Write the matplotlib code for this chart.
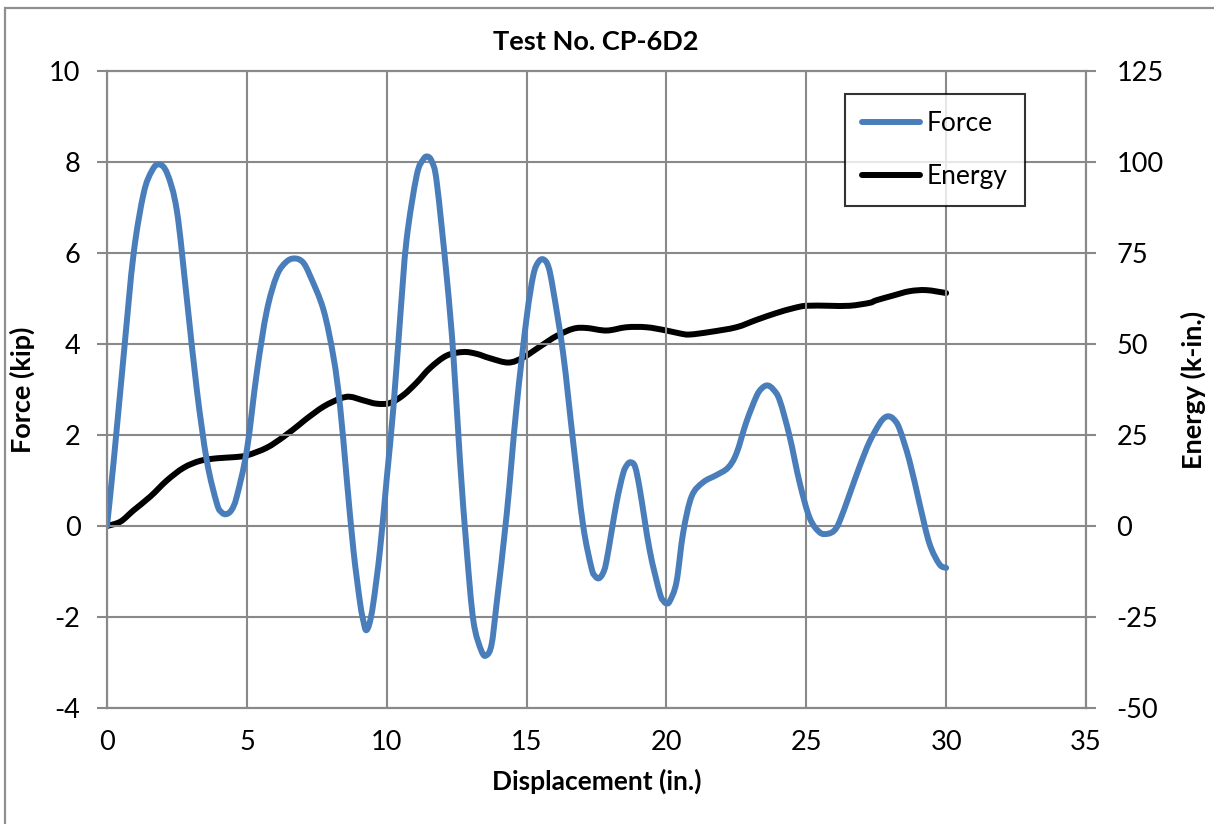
import matplotlib.pyplot as plt
from matplotlib.patches import Rectangle, PathPatch
from matplotlib.path import Path
from matplotlib.lines import Line2D

plt.rcParams['font.family'] = ['Lato', 'DejaVu Sans']
plt.rcParams['axes.unicode_minus'] = False

# Force vs displacement (in., kip)
force_disp = [0.0, 0.24, 0.6, 0.95, 1.31, 1.6, 1.85, 2.15, 2.5, 2.86, 3.21, 3.57, 3.93, 4.1, 4.26,
              4.45, 4.64, 5.0, 5.36, 5.71, 6.07, 6.4, 6.7, 7.0, 7.26, 7.74, 8.1, 8.33, 8.57, 8.81,
              9.05, 9.17, 9.26, 9.38, 9.52, 9.76, 10.0, 10.24, 10.48, 10.71, 11.07, 11.3, 11.46,
              11.62, 11.79, 12.14, 12.38, 12.62, 12.86, 13.1, 13.39, 13.57, 13.75, 13.93, 14.29,
              14.64, 15.0, 15.24, 15.42, 15.6, 15.78, 15.95, 16.31, 16.67, 17.02, 17.32, 17.45,
              17.58, 17.72, 17.86, 18.21, 18.45, 18.6, 18.73, 18.88, 19.05, 19.4, 19.76, 19.9,
              20.0, 20.12, 20.36, 20.6, 20.9, 21.31, 21.79, 22.2, 22.5, 22.86, 23.21, 23.4, 23.61,
              23.82, 24.05, 24.4, 24.76, 25.12, 25.48, 25.77, 26.0, 26.19, 26.55, 26.9, 27.26,
              27.62, 27.8, 27.95, 28.12, 28.33, 28.69, 29.05, 29.4, 29.76, 30.0]
force = [0.0, 1.43, 3.78, 5.98, 7.31, 7.8, 7.95, 7.75, 6.92, 4.96, 3.0, 1.43, 0.49, 0.3, 0.26,
         0.35, 0.65, 1.67, 3.39, 4.72, 5.5, 5.8, 5.88, 5.8, 5.5, 4.75, 3.7, 2.65, 1.04, -0.53,
         -1.7, -2.1, -2.29, -2.15, -1.7, -0.53, 1.04, 2.61, 4.57, 6.29, 7.7, 8.05, 8.12,
         8.0, 7.55, 5.51, 3.78, 1.43, -0.53, -2.09, -2.75, -2.84, -2.6, -1.7, 0.26,
         2.61, 4.57, 5.51, 5.8, 5.86, 5.7, 5.19, 3.78, 1.82, 0.02, -0.92, -1.1,
         -1.15, -1.05, -0.76, 0.49, 1.15, 1.35, 1.4, 1.3, 0.8, -0.53, -1.47, -1.65,
         -1.7, -1.65, -1.23, -0.14, 0.65, 0.96, 1.12, 1.28, 1.59, 2.29, 2.84, 3.02, 3.09,
         3.0, 2.76, 1.98, 0.96, 0.18, -0.14, -0.17, -0.1, 0.1, 0.7, 1.3, 1.85,
         2.25, 2.38, 2.41, 2.35, 2.14, 1.43, 0.49, -0.38, -0.84, -0.92]

# Cumulative energy (k-in.)
energy_disp = [0.0, 0.48, 0.95, 1.55, 2.14, 2.74, 3.33, 3.93, 4.52, 5.0, 5.71, 6.31, 6.9, 7.14,
               7.74, 8.33, 8.69, 9.17, 9.64, 10.12, 10.6, 11.07, 11.55, 12.14, 12.74, 13.21,
               13.69, 14.35, 14.88, 15.48, 16.07, 16.67, 17.14, 17.86, 18.57, 19.29, 20.0, 20.48,
               20.83, 21.55, 22.5, 23.21, 23.93, 24.52, 25.0, 25.83, 26.55, 27.26, 27.5, 28.1,
               28.69, 29.29, 30.0]
energy = [0.0, 1.2, 4.3, 8.1, 12.5, 16.0, 17.9, 18.6, 18.9, 19.4, 21.5, 24.5, 28.0, 29.5,
          32.8, 35.0, 35.5, 34.5, 33.6, 33.8, 36.0, 39.4, 43.4, 46.8, 47.8, 47.3,
          46.1, 44.9, 46.3, 49.3, 52.2, 54.2, 54.4, 53.7, 54.6, 54.6, 53.7, 52.9,
          52.6, 53.3, 54.6, 56.6, 58.5, 59.8, 60.5, 60.5, 60.5, 61.3, 62.0, 63.3,
          64.5, 64.8, 64.0]

x_ticks = [0, 5, 10, 15, 20, 25, 30, 35]
force_ticks = [-4, -2, 0, 2, 4, 6, 8, 10]
energy_ticks = [-50, -25, 0, 25, 50, 75, 100, 125]

grid_gray = '#898989'
blue = '#4A7EBB'


def smooth_path(xs, ys):
    # cubic Bezier through every point (Catmull-Rom tangents), like a smoothed line
    verts = [(xs[0], ys[0])]
    codes = [Path.MOVETO]
    n = len(xs)
    for i in range(n - 1):
        x0, y0 = (xs[i - 1], ys[i - 1]) if i > 0 else (xs[i], ys[i])
        x1, y1 = xs[i], ys[i]
        x2, y2 = xs[i + 1], ys[i + 1]
        x3, y3 = (xs[i + 2], ys[i + 2]) if i + 2 < n else (x2, y2)
        verts += [(x1 + (x2 - x0) / 6, y1 + (y2 - y0) / 6),
                  (x2 - (x3 - x1) / 6, y2 - (y3 - y1) / 6),
                  (x2, y2)]
        codes += [Path.CURVE4] * 3
    return Path(verts, codes)


fig = plt.figure(figsize=(12.14, 8.24), dpi=100)
ax = fig.add_axes([107 / 1214, 1 - 708 / 824, (1086 - 107) / 1214, (708 - 71) / 824])
ax2 = ax.twinx()

# frame around the whole chart
fig.patches.append(Rectangle((5 / 1214, -0.1), 1.2, 1 - 8 / 824 + 0.1, transform=fig.transFigure,
                             fill=False, edgecolor='#8f8f8f', linewidth=1.6))

ax.add_patch(PathPatch(smooth_path(force_disp, force), fill=False, edgecolor=blue,
                       linewidth=4.3, capstyle='round', joinstyle='round'))
ax2.add_patch(PathPatch(smooth_path(energy_disp, energy), fill=False, edgecolor='black',
                        linewidth=4.3, capstyle='round', joinstyle='round'))
ax.set_zorder(ax2.get_zorder() + 1)
ax.patch.set_visible(False)

ax.set_xlim(0, 35)
ax.set_ylim(-4, 10)
ax2.set_ylim(-50, 125)
ax.set_xticks(x_ticks)
ax.set_yticks(force_ticks)
ax2.set_yticks(energy_ticks)
ax.grid(True, color=grid_gray, linewidth=1.5)
ax.set_axisbelow(True)

for a in (ax, ax2):
    for s in a.spines.values():
        s.set_color(grid_gray)
        s.set_linewidth(1.5)

ax.tick_params(axis='y', length=7, width=1.5, color=grid_gray, labelsize=19.5, pad=12)
ax.tick_params(axis='x', length=0, labelsize=19.5, pad=16)
ax2.tick_params(axis='y', length=7, width=1.5, color=grid_gray, labelsize=19.5, pad=15)

ax.set_xlabel('Displacement (in.)', fontsize=19, fontweight='bold', labelpad=10)
ax.set_ylabel('Force (kip)', fontsize=19.5, fontweight='bold', labelpad=10)
ax2.set_ylabel('Energy (k-in.)', fontsize=19.5, fontweight='bold', labelpad=12)
fig.text(596 / 1214, 1 - 42 / 824, 'Test No. CP-6D2', ha='center', va='center',
         fontsize=19.5, fontweight='bold')

handles = [Line2D([], [], color=blue, linewidth=4.3, solid_capstyle='round'),
           Line2D([], [], color='black', linewidth=4.3, solid_capstyle='round')]
leg = ax.legend(handles, ['Force', 'Energy'], loc='upper left',
                bbox_to_anchor=(845 / 1214, 1 - 94 / 824), bbox_transform=fig.transFigure,
                fontsize=19, frameon=True, fancybox=False, borderaxespad=0,
                handlelength=2.2, handletextpad=0.25, labelspacing=1.05, borderpad=0.65)
leg.get_frame().set_edgecolor('black')
leg.get_frame().set_linewidth(1.5)

fig.savefig('out.png', dpi=100)
